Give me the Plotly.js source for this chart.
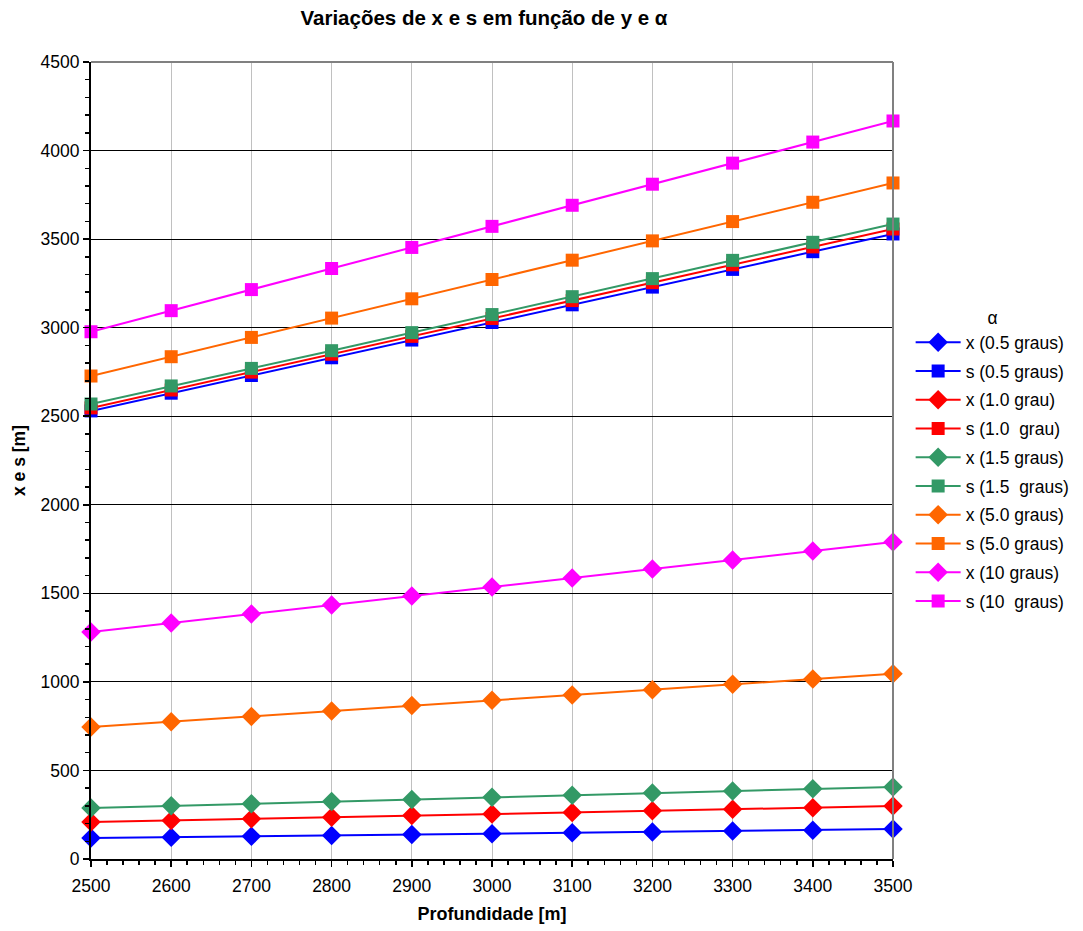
<!DOCTYPE html>
<html>
<head>
<meta charset="utf-8">
<script src="https://cdn.plot.ly/plotly-3.0.1.min.js"></script>
<style>html,body{margin:0;padding:0;background:#fff;}#chart{width:1083px;height:931px;}</style>
</head>
<body>
<div id="chart"></div>
<script>
const profundidade = [2500, 2600, 2700, 2800, 2900, 3000, 3100, 3200, 3300, 3400, 3500];

const x05 = [118, 123, 128, 133, 138, 143, 148, 153, 158, 163, 169];
const s05 = [2530, 2630, 2730, 2830, 2930, 3029, 3129, 3229, 3329, 3429, 3529];
const x10 = [209, 218, 227, 236, 245, 254, 263, 272, 281, 290, 299];
const s10 = [2547, 2648, 2749, 2850, 2951, 3052, 3153, 3254, 3355, 3456, 3557];
const x15 = [288, 300, 312, 324, 336, 348, 360, 372, 384, 396, 407];
const s15 = [2569, 2671, 2770, 2870, 2972, 3074, 3175, 3277, 3380, 3482, 3585];
const x50 = [745, 775, 805, 835, 866, 896, 926, 956, 986, 1016, 1046];
const s50 = [2727, 2836, 2945, 3054, 3163, 3272, 3381, 3490, 3599, 3708, 3817];
const x100 = [1282, 1333, 1384, 1434, 1485, 1536, 1587, 1638, 1688, 1739, 1790];
const s100 = [2977, 3096, 3215, 3334, 3453, 3572, 3691, 3810, 3929, 4048, 4167];

const seriesNames = ['x (0.5 graus)', 's (0.5 graus)', 'x (1.0 grau)', 's (1.0  grau)',
  'x (1.5 graus)', 's (1.5  graus)', 'x (5.0 graus)', 's (5.0 graus)', 'x (10 graus)', 's (10  graus)'];
const seriesData = [x05, s05, x10, s10, x15, s15, x50, s50, x100, s100];
const seriesColors = ['#0000FF', '#0000FF', '#FF0000', '#FF0000', '#339966', '#339966',
  '#FF6600', '#FF6600', '#FF00FF', '#FF00FF'];

const traces = seriesData.map((vals, i) => {
  const isX = i % 2 === 0;
  return {
    type: 'scatter', mode: 'lines+markers',
    x: profundidade, y: vals, name: seriesNames[i].replace(/  /g, '\u00a0 '),
    legendgroup: 'g' + i,
    line: {color: seriesColors[i], width: 2},
    marker: {color: seriesColors[i], symbol: isX ? 'diamond' : 'square', size: isX ? 15 : 13,
             line: {width: 0}},
    cliponaxis: false
  };
});

const layout = {
  width: 1083, height: 931,
  margin: {l: 91, r: 190, t: 62, b: 72, autoexpand: false},
  paper_bgcolor: '#ffffff', plot_bgcolor: '#ffffff',
  font: {family: 'Liberation Sans, Arial, sans-serif', size: 17.5, color: '#000'},
  title: {text: '<b>Variações de x e s em função de y e α</b>', font: {size: 20.5},
          x: 0.49, xref: 'paper', y: 1 - 18 / 931, yref: 'container', yanchor: 'middle'},
  xaxis: {
    range: [2500, 3500], dtick: 100, tick0: 2500,
    showgrid: true, gridcolor: '#c0c0c0', gridwidth: 1,
    showline: true, linecolor: '#000', linewidth: 2,
    ticks: 'outside', ticklen: 6, tickcolor: '#000', tickwidth: 1.5,
    minor: {dtick: 20, ticks: 'outside', ticklen: 4, tickcolor: '#000', showgrid: false},
    zeroline: false, tickfont: {size: 17.5}, ticklabelstandoff: 4,
    title: {text: '<b>Profundidade [m]</b>', font: {size: 18}, standoff: 12}
  },
  yaxis: {
    range: [0, 4500], dtick: 500,
    showgrid: true, gridcolor: '#000', gridwidth: 1,
    showline: true, linecolor: '#000', linewidth: 2,
    ticks: 'outside', ticklen: 6, tickcolor: '#000', tickwidth: 1.5,
    minor: {dtick: 100, ticks: 'outside', ticklen: 4, tickcolor: '#000', showgrid: false},
    zeroline: false, tickfont: {size: 17.5},
    title: {text: '<b>x e s [m]</b>', font: {size: 17.5}, standoff: 10}
  },
  shapes: [
    {type: 'line', xref: 'paper', yref: 'paper', x0: 0, x1: 1, y0: 1, y1: 1, line: {color: '#808080', width: 2}},
    {type: 'line', xref: 'paper', yref: 'paper', x0: 1, x1: 1, y0: 0, y1: 1, line: {color: '#808080', width: 2}}
  ],
  legend: {
    x: 1.022, xanchor: 'left', y: 0.5, yanchor: 'middle',
    font: {size: 17.5}, tracegroupgap: 3, itemwidth: 45,
    title: {text: 'α', side: 'top center', font: {size: 17.5}},
    bgcolor: 'rgba(0,0,0,0)'
  },
  showlegend: true
};

Plotly.newPlot('chart', traces, layout, {displayModeBar: false, staticPlot: true});
</script>
</body>
</html>
